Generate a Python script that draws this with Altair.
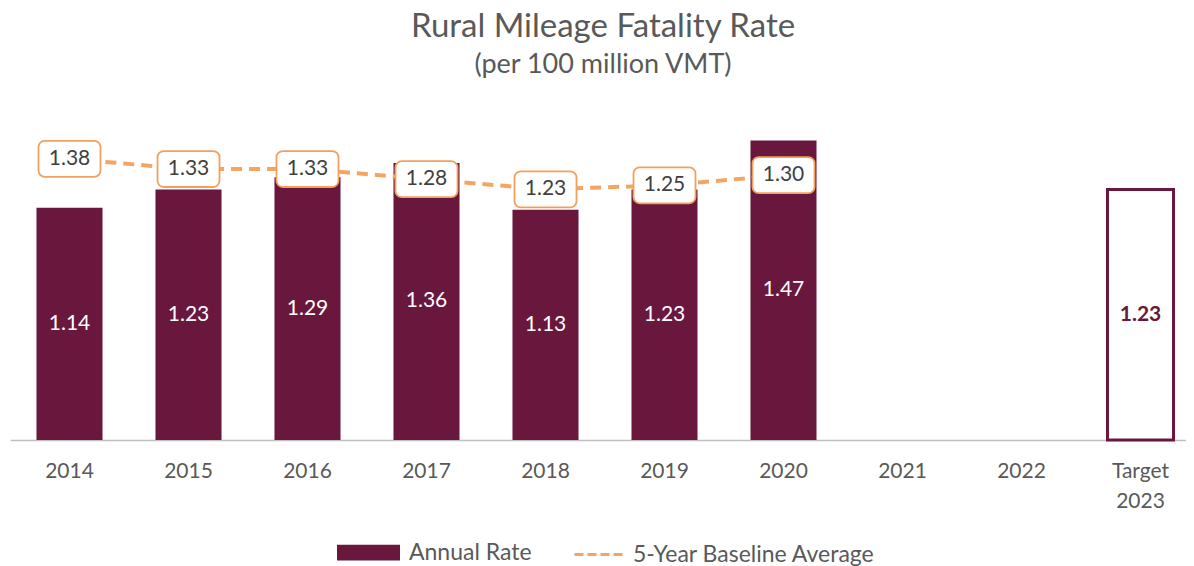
import altair as alt
import pandas as pd

years = ["2014", "2015", "2016", "2017", "2018", "2019", "2020"]
annual_rate = [1.14, 1.23, 1.29, 1.36, 1.13, 1.23, 1.47]
baseline_avg = [1.38, 1.33, 1.33, 1.28, 1.23, 1.25, 1.30]
categories = ["2014", "2015", "2016", "2017", "2018", "2019", "2020", "2021", "2022", "Target 2023"]
target_label = ["Target 2023"]
target_value = [1.23]

MAROON = "#6A173E"
ORANGE = "#F5A462"
GRAY = "#595959"
FONT = "Lato"

df = pd.DataFrame({
    "year": years,
    "annual": annual_rate,
    "baseline": baseline_avg,
    "s_bar": ["Annual Rate"] * len(years),
    "s_line": ["5-Year Baseline Average"] * len(years),
})
tdf = pd.DataFrame({"year": target_label, "value": target_value})

xscale = alt.Scale(domain=categories, range=[0, 1190], paddingInner=0.445, paddingOuter=0.2225)
yscale = alt.Scale(domain=[0, 1.6])

x_axis = alt.Axis(
    title=None, labelAngle=0, ticks=False, domainColor="#BFBFBF", domainWidth=1.5,
    labelFont=FONT, labelFontSize=21, labelColor=GRAY, labelPadding=20,
    labelLineHeight=30,
    labelExpr="datum.label == 'Target 2023' ? ['Target', '2023'] : datum.label",
)
X = alt.X("year:N", scale=xscale, axis=x_axis, sort=categories)

bar_path = "M-1,-0.25H1V0.25H-1Z"
box_path = ("M-0.8,-0.58H0.8A0.2,0.2 0 0 1 1,-0.38V0.38A0.2,0.2 0 0 1 0.8,0.58"
            "H-0.8A0.2,0.2 0 0 1 -1,0.38V-0.38A0.2,0.2 0 0 1 -0.8,-0.58Z")

base = alt.Chart(df)

bars = base.mark_bar().encode(
    x=X,
    y=alt.Y("annual:Q", scale=yscale, axis=None),
    fill=alt.Fill("s_bar:N", scale=alt.Scale(range=[MAROON]),
                  legend=alt.Legend(orient="none", legendX=327, legendY=407, title=None,
                                    symbolType=bar_path, symbolSize=3969, symbolStrokeWidth=0,
                                    labelFont=FONT, labelFontSize=23, labelColor=GRAY,
                                    labelOffset=9, labelLimit=400, padding=0)),
)

bar_text = base.mark_text(color="white", font=FONT, fontSize=21, baseline="middle").transform_calculate(
    mid="datum.annual / 2"
).encode(
    x=X, y=alt.Y("mid:Q", scale=yscale), text=alt.Text("annual:Q", format=".2f")
)

target_bar = alt.Chart(tdf).mark_bar(fill="white", stroke=MAROON, strokeWidth=3).encode(
    x=X, y=alt.Y("value:Q", scale=yscale)
)
target_text = alt.Chart(tdf).mark_text(color=MAROON, font=FONT, fontSize=21, fontWeight="bold",
                                       baseline="middle").transform_calculate(
    mid="datum.value / 2"
).encode(x=X, y=alt.Y("mid:Q", scale=yscale), text=alt.Text("value:Q", format=".2f"))

line = base.mark_line(strokeWidth=4, strokeDash=[11, 7]).encode(
    x=X,
    y=alt.Y("baseline:Q", scale=yscale),
    stroke=alt.Stroke("s_line:N", scale=alt.Scale(range=[ORANGE]),
                      legend=alt.Legend(orient="none", legendX=563, legendY=413, title=None,
                                        symbolType="stroke", symbolDash=[9, 4], symbolStrokeWidth=3,
                                        symbolSize=2704,
                                        labelFont=FONT, labelFontSize=23, labelColor=GRAY,
                                        labelOffset=5, labelLimit=400, padding=0)),
)

boxes = base.mark_point(shape=box_path, size=3844, filled=True, fill="white",
                        stroke="#F4A05C", strokeWidth=1.8, opacity=1).encode(
    x=X, y=alt.Y("baseline:Q", scale=yscale)
)
box_text = base.mark_text(color="#404040", font=FONT, fontSize=21, baseline="middle").encode(
    x=X, y=alt.Y("baseline:Q", scale=yscale), text=alt.Text("baseline:Q", format=".2f")
)

chart = alt.layer(bars, target_bar, line, boxes, box_text, bar_text, target_text).properties(
    width=1176, height=326,
    autosize=alt.AutoSizeParams(type="none"),
    padding={"left": 2, "top": 106, "right": 0, "bottom": 126},
    title=alt.TitleParams(
        "Rural Mileage Fatality Rate",
        subtitle="(per 100 million VMT)",
        font=FONT, fontSize=33, fontWeight="normal", color=GRAY,
        subtitleFont=FONT, subtitleFontSize=27, subtitleColor=GRAY, subtitlePadding=8,
        anchor="middle", dx=5, offset=36,
    ),
).resolve_scale(fill="independent", stroke="independent").configure_view(stroke=None)

chart.save("out.html", embed_options={"renderer": "svg", "actions": False})
